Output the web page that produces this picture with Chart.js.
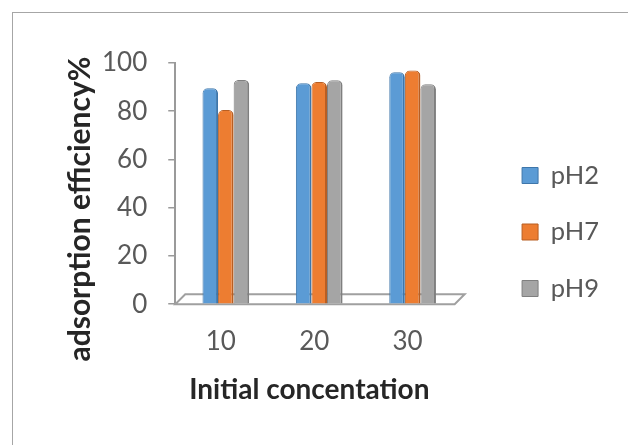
<!DOCTYPE html>
<html>
<head>
<meta charset="utf-8">
<script src="https://cdn.jsdelivr.net/npm/chart.js@4/dist/chart.umd.min.js"></script>
<style>
  html, body { margin: 0; padding: 0; background: #ffffff; }
  #frame { position: absolute; left: 12px; top: 12px; width: 640px; height: 460px;
           border: 1px solid #a6a6a6; box-sizing: border-box; }
  #wrap { position: absolute; left: 0; top: 0; width: 628px; height: 445px; }
</style>
</head>
<body>
<div id="frame"></div>
<div id="wrap"><canvas id="c" width="628" height="445"></canvas></div>
<script>
// ---- data ----
const concentrations = [10, 20, 30];
const seriesNames = ['pH2', 'pH7', 'pH9'];
const pH2 = [89.5, 91.6, 96.2];
const pH7 = [80.5, 92.1, 96.9];
const pH9 = [93, 92.8, 91.2];
const yTicks = [0, 20, 40, 60, 80, 100];
const xTitle = 'Initial concentation';
const yTitle = 'adsorption efficiency%';

const fills = ['#5B9BD5', '#ED7D31', '#A5A5A5'];
const edges = ['#3E76AA', '#B85E22', '#7F7F7F'];
const FONT = 'Lato, "Open Sans", sans-serif';
// trailing spaces shift the centred axis titles to where the reference places them
const pad = n => ' '.repeat(n);

const seriesValues = [pH2, pH7, pH9];
const datasets = seriesNames.map((name, i) => ({
  label: name,
  data: concentrations.map((c, j) => ({ x: c, y: seriesValues[i][j] })),
  backgroundColor: fills[i],
  borderColor: edges[i],
  borderWidth: { left: 1, right: 2, top: 1, bottom: 0 },
  borderSkipped: 'bottom',
  borderRadius: { topLeft: 5, topRight: 5 },
  categoryPercentage: 0.5,
  barPercentage: 1.0
}));

// 3D-like floor under the bars
const floorPlugin = {
  id: 'floor',
  beforeDatasetsDraw(chart) {
    const { ctx } = chart;
    const xs = chart.scales.x, ys = chart.scales.y;
    const y0 = ys.getPixelForValue(0);
    const left = xs.left, right = xs.getPixelForValue(34.5);
    const depth = 10, skew = 10;
    ctx.save();
    ctx.beginPath();
    ctx.moveTo(left, y0);
    ctx.lineTo(right, y0);
    ctx.lineTo(right + skew, y0 - depth);
    ctx.lineTo(left + skew, y0 - depth);
    ctx.closePath();
    ctx.fillStyle = '#ffffff';
    ctx.fill();
    ctx.lineWidth = 2;
    ctx.strokeStyle = '#a0a0a0';
    ctx.stroke();
    ctx.restore();
  }
};

new Chart(document.getElementById('c'), {
  type: 'bar',
  data: { datasets },
  plugins: [floorPlugin],
  options: {
    responsive: false,
    animation: false,
    layout: { padding: { left: 60, top: 50, right: 19, bottom: 31 } },
    plugins: {
      title: { display: true, text: ' ', padding: 0, font: { size: 13, lineHeight: 1 } },
      legend: {
        position: 'right',
        labels: {
          boxWidth: 16, boxHeight: 16, padding: 31,
          color: '#595959',
          font: { family: FONT, size: 25.5 }
        }
      },
      tooltip: { enabled: false }
    },
    scales: {
      x: {
        type: 'linear',
        offset: false,
        min: 4.58, max: 38.4,
        afterBuildTicks(scale) { scale.ticks = concentrations.map(v => ({ value: v })); },
        grid: { display: false, drawTicks: false },
        border: { display: false },
        ticks: { color: '#595959', font: { family: FONT, size: 26 }, padding: 22, labelOffset: -5, maxRotation: 0 },
        title: { display: true, text: xTitle + pad(7), color: '#262626',
                 font: { family: FONT, size: 28, weight: 'bold' }, padding: { top: -6, bottom: 7 } }
      },
      y: {
        min: 0, max: 100,
        afterBuildTicks(scale) { scale.ticks = yTicks.map(v => ({ value: v })); },
        grid: { drawOnChartArea: false, drawTicks: true, tickLength: 7, color: '#9a9a9a', lineWidth: 1.5 },
        border: { display: true, color: '#9a9a9a', width: 2 },
        ticks: { color: '#595959', font: { family: FONT, size: 26 }, padding: 21 },
        title: { display: true, text: yTitle + pad(7), color: '#262626',
                 font: { family: FONT, size: 30, weight: 'bold' }, padding: { top: 2, bottom: -17 } }
      }
    }
  }
});
</script>
</body>
</html>
